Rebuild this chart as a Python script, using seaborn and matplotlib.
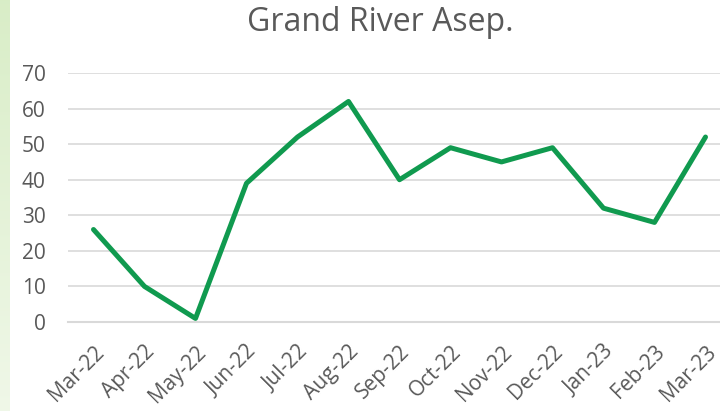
import numpy as np
import pandas as pd
import matplotlib.pyplot as plt
import seaborn as sns

months = ['Mar-22', 'Apr-22', 'May-22', 'Jun-22', 'Jul-22', 'Aug-22', 'Sep-22',
          'Oct-22', 'Nov-22', 'Dec-22', 'Jan-23', 'Feb-23', 'Mar-23']
values = [26, 10, 1, 39, 52, 62, 40, 49, 45, 49, 32, 28, 52]
yticks = [0, 10, 20, 30, 40, 50, 60, 70]

sns.set_style("white")
plt.rcParams['font.family'] = ['Open Sans', 'DejaVu Sans']

df = pd.DataFrame({'month': months, 'value': values})

fig = plt.figure(figsize=(7.2, 4.11), dpi=100)

# light green strip on the left edge
strip = fig.add_axes([0, 0, 10 / 720, 1])
grad = np.linspace(0, 1, 256).reshape(-1, 1)
top_c = np.array([0.85, 0.93, 0.78])
bot_c = np.array([0.94, 0.97, 0.91])
img = top_c + (bot_c - top_c) * grad[:, :, None]
strip.imshow(img, aspect='auto', extent=[0, 1, 0, 1], origin='upper')
strip.axis('off')

ax = fig.add_axes([68 / 720, 1 - 322 / 411, 663 / 720, 249 / 411])
sns.lineplot(data=df, x='month', y='value', ax=ax, color='#109a4f',
             linewidth=3.6, sort=False)

ax.set_ylim(0, 70)
ax.set_xlim(-0.5, len(months) - 0.5)
ax.set_yticks(yticks)
ax.set_xlabel('')
ax.set_ylabel('')
ax.grid(axis='y', color='#d9d9d9', linewidth=1.2)
ax.set_axisbelow(True)
for s in ['top', 'right', 'left']:
    ax.spines[s].set_visible(False)
ax.spines['bottom'].set_color('#d9d9d9')
ax.spines['bottom'].set_linewidth(1.5)

ax.set_xticks(np.arange(-0.5, len(months), 1.0), minor=True)
ax.tick_params(axis='x', which='minor', length=5, width=1.2, color='#d9d9d9')
ax.tick_params(axis='x', which='major', length=0, pad=14, labelsize=15,
               labelcolor='#595959')
ax.tick_params(axis='y', length=0, pad=16, labelsize=15, labelcolor='#595959')
for lab in ax.get_xticklabels():
    lab.set_rotation(45)
    lab.set_ha('right')
    lab.set_rotation_mode('anchor')

fig.text(380 / 720, 1 - 31 / 411, 'Grand River Asep.', ha='center', va='baseline',
         fontsize=23, color='#595959')

fig.savefig('out.png', dpi=100)
